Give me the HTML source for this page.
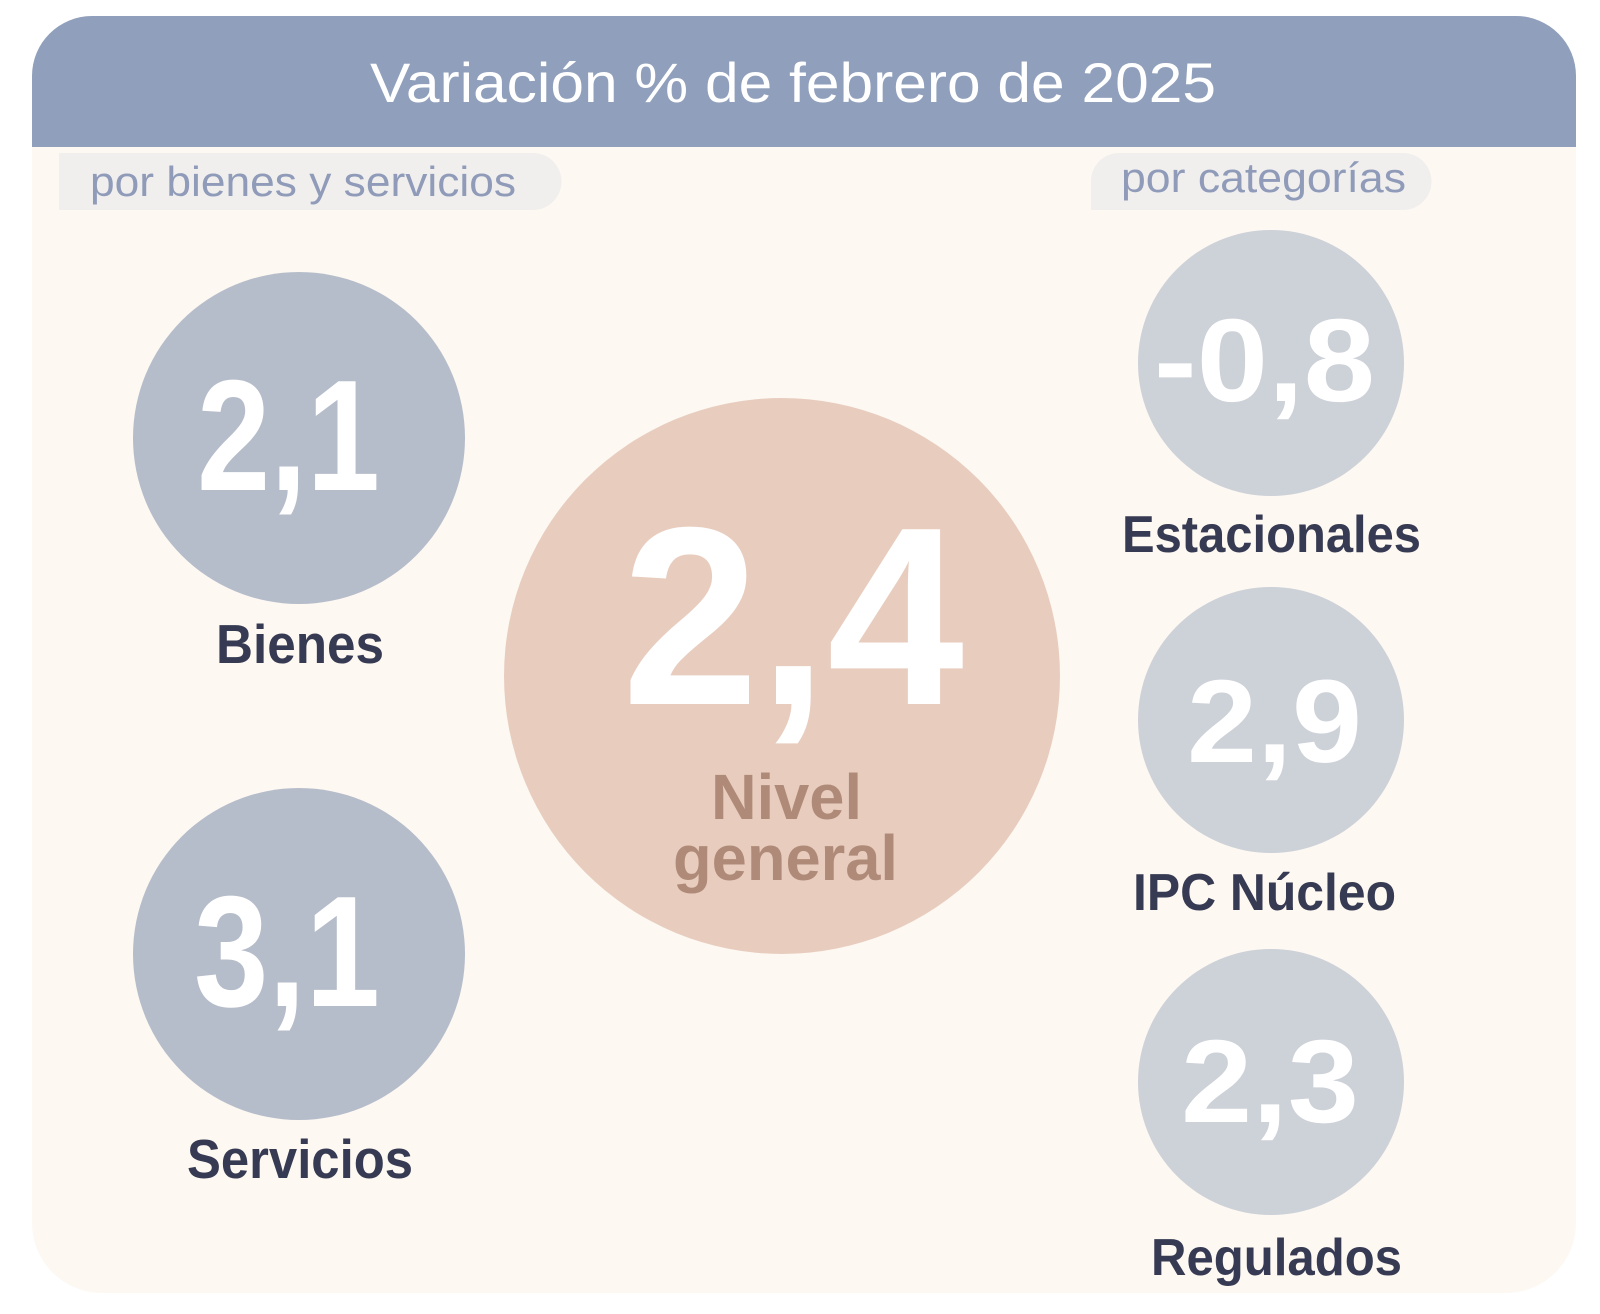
<!DOCTYPE html>
<html><head><meta charset="utf-8"><style>
html,body{margin:0;padding:0;background:#fff;}
svg{display:block;}
text{font-family:"Liberation Sans",Arial,sans-serif;}
</style></head><body>
<svg width="1600" height="1314" viewBox="0 0 1600 1314">
  <path d="M32 147 H1576 V1223 A70 70 0 0 1 1506 1293 H102 A70 70 0 0 1 32 1223 Z" fill="#fdf8f2"/>
  <path d="M32 147 V76 A60 60 0 0 1 92 16 H1516 A60 60 0 0 1 1576 76 V147 Z" fill="#909fbb"/>
  <text x="370" y="102" font-size="56" fill="#ffffff" textLength="846" lengthAdjust="spacingAndGlyphs">Variación % de febrero de 2025</text>

  <path d="M59 153 H533 A28.5 28.5 0 0 1 533 210 H59 Z" fill="#f0efee"/>
  <text x="90" y="196" font-size="42" fill="#8f9bb8" textLength="426" lengthAdjust="spacingAndGlyphs">por bienes y servicios</text>
  <path d="M1091 181 A28 28 0 0 1 1119 153 H1403 A28.5 28.5 0 0 1 1403 210 H1091 Z" fill="#f0efee"/>
  <text x="1121" y="192" font-size="42" fill="#8f9bb8" textLength="285" lengthAdjust="spacingAndGlyphs">por categorías</text>

  <g>
    <circle cx="299" cy="438" r="166" fill="#b6bdca"/>
    <text x="197" y="490" font-size="158" font-weight="bold" fill="#ffffff" textLength="183" lengthAdjust="spacingAndGlyphs">2,1</text>
    <text x="216" y="663" font-size="55" font-weight="bold" fill="#363a52" textLength="168" lengthAdjust="spacingAndGlyphs">Bienes</text>
  </g>
  <g>
    <circle cx="299" cy="954" r="166" fill="#b6bdca"/>
    <text x="194" y="1006" font-size="158" font-weight="bold" fill="#ffffff" textLength="186" lengthAdjust="spacingAndGlyphs">3,1</text>
    <text x="187" y="1178" font-size="55" font-weight="bold" fill="#363a52" textLength="226" lengthAdjust="spacingAndGlyphs">Servicios</text>
  </g>
  <g>
    <circle cx="782" cy="676" r="278" fill="#e8cdbf"/>
    <text x="622" y="704" font-size="254" font-weight="bold" fill="#ffffff" textLength="342" lengthAdjust="spacingAndGlyphs">2,4</text>
    <text x="711" y="819" font-size="64" font-weight="bold" fill="#b08a78" textLength="151" lengthAdjust="spacingAndGlyphs">Nivel</text>
    <text x="673" y="880" font-size="64" font-weight="bold" fill="#b08a78" textLength="225" lengthAdjust="spacingAndGlyphs">general</text>
  </g>
  <g>
    <circle cx="1271" cy="363" r="133" fill="#cdd1d8"/>
    <text x="1154" y="401" font-size="118" font-weight="bold" fill="#ffffff" textLength="221" lengthAdjust="spacingAndGlyphs">-0,8</text>
    <text x="1122" y="552" font-size="52" font-weight="bold" fill="#363a52" textLength="299" lengthAdjust="spacingAndGlyphs">Estacionales</text>
  </g>
  <g>
    <circle cx="1271" cy="720" r="133" fill="#cdd1d8"/>
    <text x="1187" y="762" font-size="118" font-weight="bold" fill="#ffffff" textLength="175" lengthAdjust="spacingAndGlyphs">2,9</text>
    <text x="1133" y="910" font-size="52" font-weight="bold" fill="#363a52" textLength="263" lengthAdjust="spacingAndGlyphs">IPC Núcleo</text>
  </g>
  <g>
    <circle cx="1271" cy="1082" r="133" fill="#cdd1d8"/>
    <text x="1181" y="1122" font-size="118" font-weight="bold" fill="#ffffff" textLength="178" lengthAdjust="spacingAndGlyphs">2,3</text>
    <text x="1151" y="1275" font-size="52" font-weight="bold" fill="#363a52" textLength="251" lengthAdjust="spacingAndGlyphs">Regulados</text>
  </g>
</svg>
</body></html>
